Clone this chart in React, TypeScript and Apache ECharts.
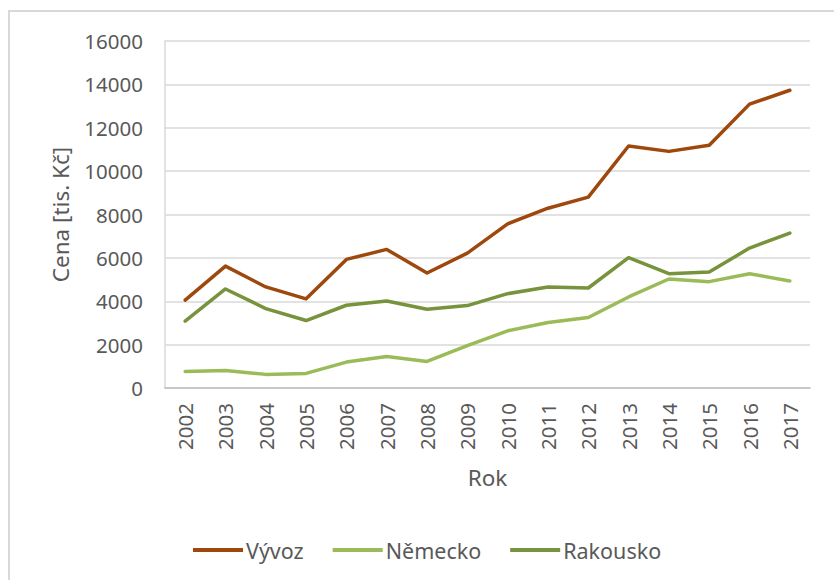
import React, { useEffect, useRef } from "react";
import * as echarts from "echarts";

const years = ["2002","2003","2004","2005","2006","2007","2008","2009","2010","2011","2012","2013","2014","2015","2016","2017"];
const vyvoz = [4050, 5620, 4660, 4110, 5930, 6390, 5300, 6220, 7570, 8290, 8800, 11160, 10910, 11190, 13090, 13730];
const nemecko = [766, 812, 628, 674, 1195, 1456, 1226, 1950, 2636, 3019, 3249, 4199, 5027, 4904, 5272, 4935];
const rakousko = [3080, 4567, 3663, 3111, 3816, 4015, 3632, 3801, 4350, 4660, 4612, 6008, 5272, 5349, 6452, 7142];
const seriesNames = ["Vývoz", "Německo", "Rakousko"];
const colors = ["#9E480E", "#9BBB59", "#77933C"];

export default function App() {
  const ref = useRef<HTMLDivElement>(null);
  useEffect(() => {
    if (!ref.current) return;
    const chart = echarts.init(ref.current, undefined, { renderer: "svg" });
    const font = "'Noto Sans', sans-serif";
    const data = [vyvoz, nemecko, rakousko];
    chart.setOption({
      animation: false,
      backgroundColor: "#ffffff",
      textStyle: { fontFamily: font },
      graphic: [
        {
          type: "polyline",
          shape: { points: [[9, 580], [9, 11], [834, 11]] },
          style: { stroke: "#D9D9D9", lineWidth: 2, fill: null },
          silent: true,
        },
      ],
      grid: { left: 165, right: 24, top: 41, bottom: 192 },
      legend: {
        left: 188,
        top: 534,
        itemGap: 29,
        itemWidth: 50,
        itemHeight: 4,
        icon: "rect",
        textStyle: { fontFamily: font, fontSize: 21.5, color: "#595959", padding: [0, 0, 0, -2] },
        data: seriesNames,
      },
      xAxis: {
        type: "category",
        data: years,
        boundaryGap: true,
        name: "Rok",
        nameLocation: "middle",
        nameGap: 78,
        nameTextStyle: { fontFamily: font, fontSize: 22.5, color: "#595959" },
        axisLine: { show: true, lineStyle: { color: "#BFBFBF", width: 1.5 } },
        axisTick: { show: false },
        axisLabel: { rotate: 90, margin: 15, fontFamily: font, fontSize: 20.5, color: "#595959" },
      },
      yAxis: {
        type: "value",
        min: 0,
        max: 16000,
        interval: 2000,
        name: "Cena [tis. Kč]",
        nameLocation: "middle",
        nameGap: 93,
        nameTextStyle: { fontFamily: font, fontSize: 22.5, color: "#595959" },
        axisLine: { show: true, lineStyle: { color: "#D9D9D9", width: 1.5 } },
        axisTick: { show: false },
        axisLabel: {
          margin: 22,
          fontFamily: font,
          fontSize: 20.5,
          color: "#595959",
          formatter: (v: number) => String(v),
        },
        splitLine: { lineStyle: { color: "#D9D9D9", width: 1.5 } },
      },
      series: seriesNames.map((name, i) => ({
        name,
        type: "line",
        data: data[i],
        symbol: "none",
        color: colors[i],
        lineStyle: { color: colors[i], width: 3.5, cap: "round", join: "round" },
      })),
    });
    return () => chart.dispose();
  }, []);
  return (
    <div
      ref={ref}
      style={{ position: "fixed", left: 0, top: 0, width: 834, height: 580 }}
    />
  );
}
